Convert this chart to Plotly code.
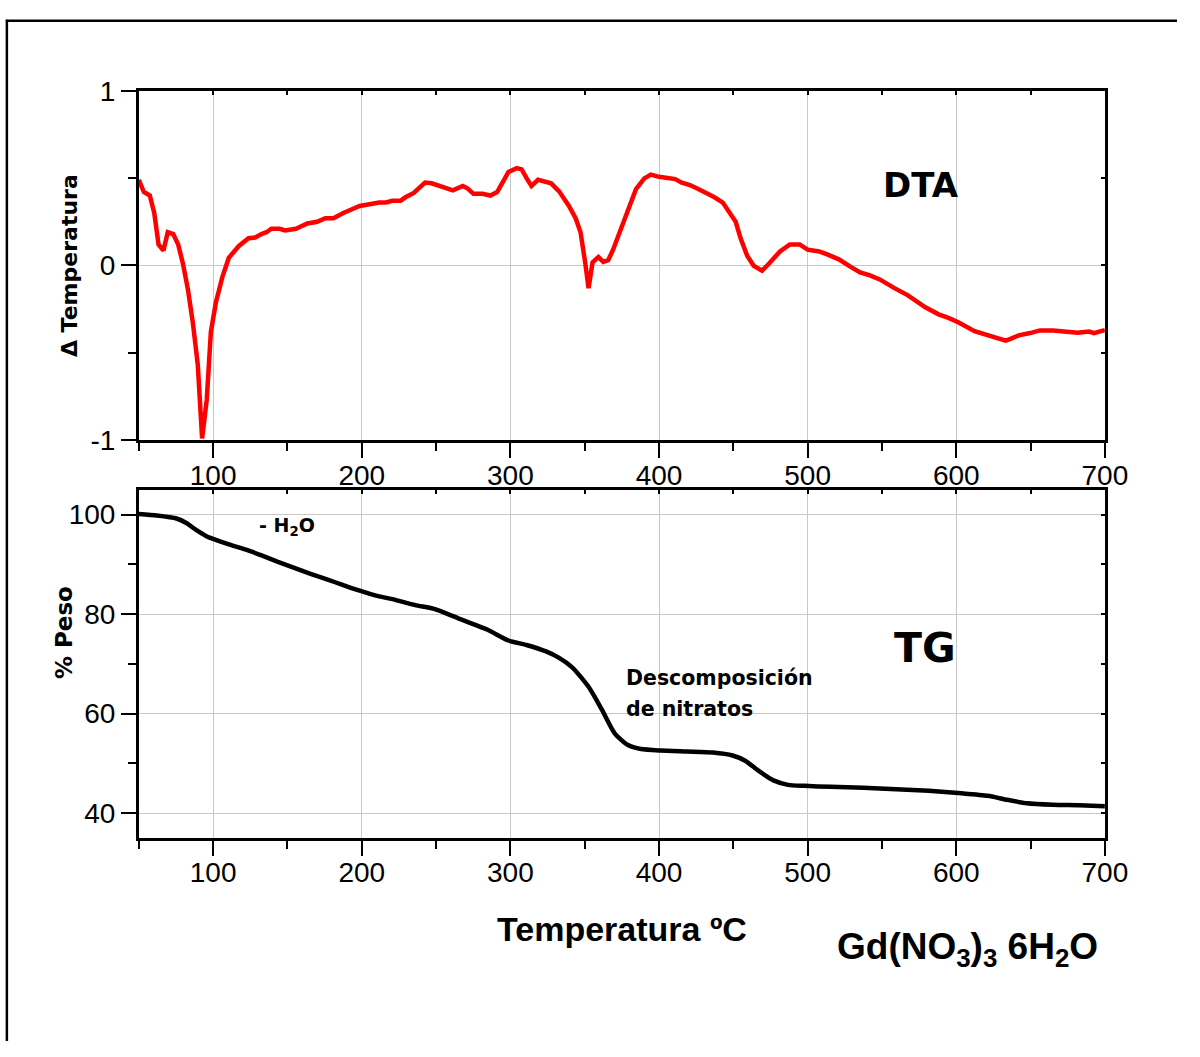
import plotly.graph_objects as go

# DTA curve (red): temperature in °C and ΔT signal
dta_temp = [50, 53.4, 57.4, 60.4, 63.3, 66.6, 69.5, 73.2, 76.5, 79.8, 83.1, 86.4, 89.7, 91.3, 92.6,
            95.7, 97.4, 98.5, 101.8, 106.2, 110.6, 117.2, 123.8, 128.2, 132.6, 135.9, 139.2, 144.7,
            148.5, 155.7, 163.4, 170, 175.5, 181, 187.6, 193.1, 198.6, 205.2, 211.8, 216.2, 220.6,
            226.1, 229.4, 235, 242.6, 247, 253.6, 261.3, 268, 271.3, 275.2, 281.2, 286.6, 291.1,
            294.4, 298.7, 304.3, 307.6, 310.9, 314.2, 318.6, 323, 327.4, 332.8, 339.4, 343.9, 347.2,
            350.5, 352.6, 355.3, 359.2, 362.5, 365.8, 369.1, 374.6, 380.2, 384.5, 390.1, 394.5, 400,
            405.5, 410.9, 415.3, 420.8, 426.4, 431.8, 437.3, 442.9, 447.2, 451.6, 454.9, 459.4, 463.7,
            469.3, 473.6, 481.4, 488, 494.6, 500, 507.8, 513.2, 521, 528.7, 535.3, 541.9, 548.5,
            558.4, 567.2, 579.2, 588.1, 594.7, 601.3, 612.3, 621.1, 626.6, 633.2, 636.5, 642, 649.7,
            656.3, 665.1, 673.9, 681.6, 689.3, 692.6, 699.2, 700]
dta_signal = [0.49, 0.42, 0.40, 0.30, 0.12, 0.085, 0.19, 0.18, 0.12, 0.007, -0.14, -0.33, -0.57, -0.79,
              -0.99, -0.77, -0.57, -0.38, -0.215, -0.067, 0.044, 0.11, 0.156, 0.16, 0.18, 0.19, 0.21,
              0.21, 0.20, 0.21, 0.24, 0.25, 0.27, 0.27, 0.30, 0.32, 0.34, 0.35, 0.36, 0.36, 0.37,
              0.37, 0.39, 0.415, 0.474, 0.47, 0.45, 0.43, 0.455, 0.44, 0.41, 0.41, 0.40, 0.42,
              0.47, 0.535, 0.557, 0.55, 0.50, 0.455, 0.49, 0.483, 0.47, 0.424, 0.34, 0.27, 0.19,
              0.007, -0.13, 0.017, 0.048, 0.02, 0.03, 0.09, 0.21, 0.34, 0.437, 0.498, 0.52, 0.507,
              0.498, 0.494, 0.474, 0.46, 0.437, 0.415, 0.39, 0.36, 0.31, 0.25, 0.155, 0.054, -0.002,
              -0.03, 0.007, 0.08, 0.12, 0.12, 0.09, 0.08, 0.063, 0.035, -0.007, -0.04, -0.057, -0.08,
              -0.13, -0.17, -0.24, -0.28, -0.30, -0.325, -0.376, -0.40, -0.41, -0.43, -0.42, -0.40,
              -0.387, -0.372, -0.372, -0.38, -0.385, -0.378, -0.387, -0.372, -0.37]

# TG curve (black): temperature in °C and remaining mass in %
tg_temp = [50, 62.2, 75.4, 82, 88.6, 95.2, 101.8, 110.6, 121.6, 132.6, 143.6, 154.6, 165.6, 176.6,
           187.6, 198.6, 209.6, 220.6, 236, 249.2, 264.6, 284.4, 298.7, 310.8, 324, 332.8, 341.6,
           352.6, 361.4, 370.3, 379.1, 387.9, 401.1, 418.7, 436.3, 449.5, 458.3, 467.1, 477, 486.8,
           497.9, 515.5, 537.5, 559.5, 581.5, 603.5, 621.1, 634.3, 647.5, 665.1, 682.7, 700]
tg_mass = [100.1, 99.8, 99.2, 98.3, 96.9, 95.7, 94.9, 94.0, 93.0, 91.8, 90.5, 89.3, 88.1, 87.0,
           85.8, 84.7, 83.7, 83.0, 81.8, 81.0, 79.2, 76.9, 74.7, 73.8, 72.5, 71.2, 69.3,
           65.4, 60.9, 56.0, 53.7, 52.9, 52.6, 52.4, 52.2, 51.6, 50.5, 48.5, 46.6, 45.7,
           45.5, 45.3, 45.1, 44.8, 44.5, 44.0, 43.5, 42.7, 42.0, 41.7, 41.6, 41.4]

x_ticks = [100, 200, 300, 400, 500, 600, 700]
x_minor = [50, 150, 250, 350, 450, 550, 650]
x_all = [50, 100, 150, 200, 250, 300, 350, 400, 450, 500, 550, 600, 650, 700]
dta_ticks = [-1, 0, 1]
dta_ticktext = ["-1", "0", "1"]
dta_minor = [-0.5, 0.5]
dta_all = [-1, -0.5, 0, 0.5, 1]
tg_ticks = [40, 60, 80, 100]
tg_minor = [50, 70, 90]
tg_all = [40, 50, 60, 70, 80, 90, 100]

W, H = 1200, 1057


def px(x):
    return x / W


def py(y):
    return 1 - y / H


TICK_FONT = dict(family="Liberation Sans, Arial, sans-serif", size=28, color="black")
HEAVY = "DejaVu Sans, Arial Black, sans-serif"
ARIAL = "Liberation Sans, Arial, sans-serif"
GRID = "#c8c8c8"
X_DOMAIN = [px(141.5), px(1126.5)]
TOP_DOMAIN = [py(438), py(78)]
BOT_DOMAIN = [py(848), py(489)]

fig = go.Figure()
fig.add_trace(go.Scatter(x=dta_temp, y=dta_signal, mode="lines",
                         line=dict(color="#ff0000", width=4.5), xaxis="x", yaxis="y",
                         showlegend=False, hoverinfo="skip"))
fig.add_trace(go.Scatter(x=tg_temp, y=tg_mass, mode="lines",
                         line=dict(color="black", width=4.5, shape="spline", smoothing=0.6),
                         xaxis="x2", yaxis="y2", showlegend=False, hoverinfo="skip"))
# empty traces that carry the small inner ticks on the top and right frames
for xa, ya in (("x3", "y3"), ("x4", "y4")):
    fig.add_trace(go.Scatter(x=[], y=[], xaxis=xa, yaxis=ya, showlegend=False,
                             hoverinfo="skip"))

minor_style = dict(ticks="outside", ticklen=8, tickwidth=2, tickcolor="black", showgrid=False)

x_common = dict(range=[50, 700], domain=X_DOMAIN, tickmode="array",
                tickvals=x_ticks, ticks="outside", ticklen=15, tickwidth=2, tickcolor="black",
                minor=dict(tickmode="array", tickvals=x_minor, **minor_style),
                showline=True, linewidth=2.5, linecolor="black", mirror=True,
                showgrid=True, gridcolor=GRID, gridwidth=1.3, zeroline=False,
                tickfont=TICK_FONT, ticklabelstandoff=-7)

y_common = dict(ticks="outside", ticklen=15, tickwidth=2, tickcolor="black",
                showline=True, linewidth=2.5, linecolor="black", mirror=True,
                showgrid=True, gridcolor=GRID, gridwidth=1.3, zeroline=False,
                tickfont=TICK_FONT)

inner = dict(ticks="inside", ticklen=4, tickwidth=2, tickcolor="black", showticklabels=False,
             showgrid=False, zeroline=False, showline=False, tickmode="array")

fig.update_layout(
    width=W, height=H,
    margin=dict(l=0, r=0, t=0, b=0),
    paper_bgcolor="white", plot_bgcolor="white",
    xaxis=dict(anchor="y", **x_common),
    yaxis=dict(anchor="x", range=[-1, 1], domain=TOP_DOMAIN, tickmode="array",
               tickvals=dta_ticks, ticktext=dta_ticktext,
               minor=dict(tickmode="array", tickvals=dta_minor, **minor_style),
               **y_common),
    xaxis2=dict(anchor="y2", **x_common),
    yaxis2=dict(anchor="x2", range=[35, 105], domain=BOT_DOMAIN, tickmode="array",
                tickvals=tg_ticks,
                minor=dict(tickmode="array", tickvals=tg_minor, **minor_style),
                **y_common),
    xaxis3=dict(overlaying="x", anchor="y3", side="top", range=[50, 700], tickvals=x_all,
                **inner),
    yaxis3=dict(overlaying="y", anchor="x3", side="right", range=[-1, 1], tickvals=dta_all,
                **inner),
    xaxis4=dict(overlaying="x2", anchor="y4", side="top", range=[50, 700], tickvals=x_all,
                **inner),
    yaxis4=dict(overlaying="y2", anchor="x4", side="right", range=[35, 105], tickvals=tg_all,
                **inner),
)

# outer frame (open towards the right and bottom edges)
frame = dict(type="line", xref="paper", yref="paper", line=dict(color="black", width=2.5))
fig.add_shape(x0=px(6), x1=1.0, y0=py(6), y1=py(6), **frame)
fig.add_shape(x0=px(7), x1=px(7), y0=py(5), y1=0.0, **frame)


def label(text, x, y, size, family=HEAVY, angle=0, xanchor="center"):
    fig.add_annotation(text=text, x=px(x), y=py(y), xref="paper", yref="paper",
                       xanchor=xanchor, yanchor="middle", showarrow=False, textangle=angle,
                       font=dict(family=family, size=size, color="black"))


label("<b>Δ Temperatura</b>", 71, 258, 22, angle=-90)
label("<b>% Peso</b>", 66, 636, 23, angle=-90)
label("<b>DTA</b>", 939, 175, 34)
label("<b>TG</b>", 943, 652, 41)
label("<b>- H<sub>2</sub>O</b>", 262, 527, 19, xanchor="left")
label("<b>Descomposición</b>", 636, 683, 20.5, xanchor="left")
label("<b>de nitratos</b>", 636, 715, 20.5, xanchor="left")
label("<b>Temperatura ºC</b>", 634, 942, 34, family=ARIAL)
label("<b>Gd(NO<sub>3</sub>)<sub>3</sub> 6H<sub>2</sub>O</b>", 986, 962, 37, family=ARIAL)

fig.write_html("out.html")
